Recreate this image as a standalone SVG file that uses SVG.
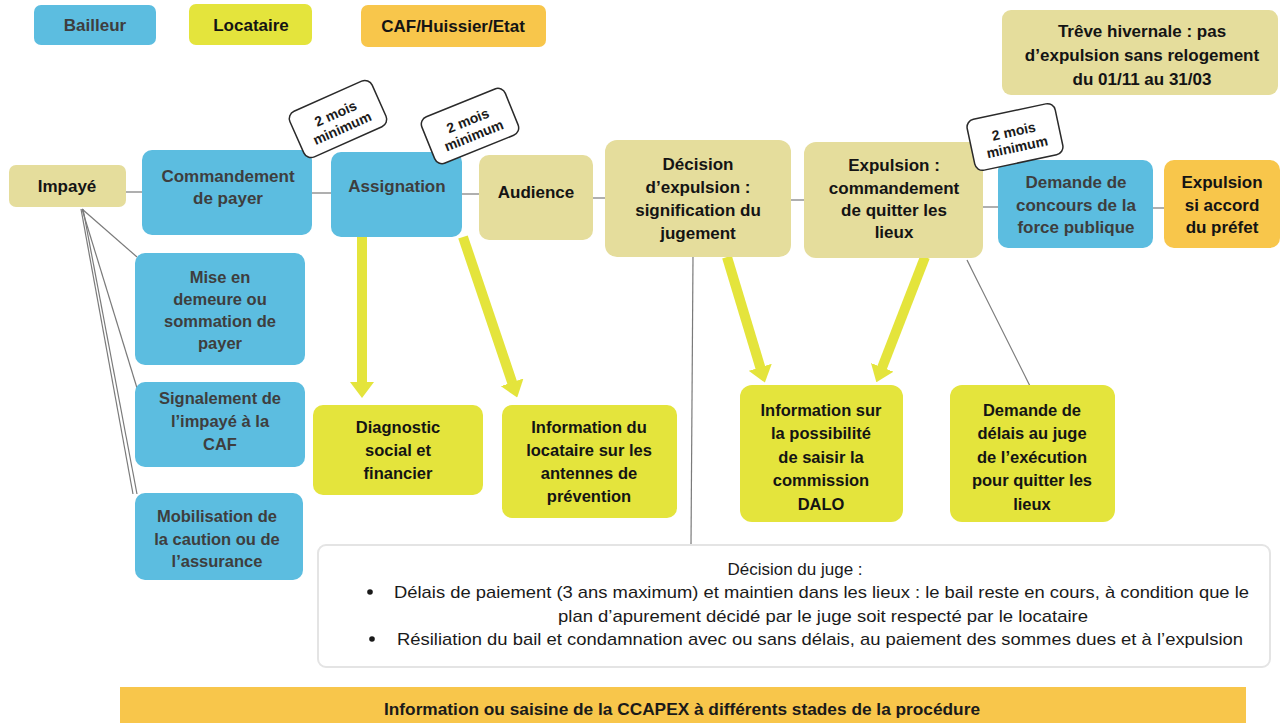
<svg xmlns="http://www.w3.org/2000/svg" width="1282" height="723" viewBox="0 0 1282 723">
<defs>
<style>
.bl{fill:#5cbde0}
.kh{fill:#e5dd9c}
.ye{fill:#e4e43c}
.or{fill:#f8c64b}
.t{font-family:"Liberation Sans",Arial,sans-serif;font-weight:bold;font-size:17px;text-anchor:middle}
.tb{fill:#3e3e3e}
.tk{fill:#141414}
.s16{font-size:16.5px}
.lbl rect{fill:#ffffff;stroke:#2a2a2a;stroke-width:1.5}
.lbl text{font-family:"Liberation Sans",Arial,sans-serif;font-size:14px;font-weight:bold;fill:#1a1a1a;text-anchor:middle}
.gl{stroke:#7a7a7a;stroke-width:1.2;fill:none}
.ya{stroke:#e4e43c;stroke-width:10;fill:none;marker-end:url(#yh)}
.jt{font-family:"Liberation Sans Narrow","Liberation Sans",Arial,sans-serif;font-size:17px;fill:#1a1a1a}
</style>
<marker id="yh" viewBox="0 0 16 24" markerWidth="16" markerHeight="24" refX="6" refY="12" orient="auto" markerUnits="userSpaceOnUse">
<path d="M0,0 L16,12 L0,24 z" fill="#e4e43c"/>
</marker>
</defs>
<rect width="1282" height="723" fill="#ffffff"/>

<!-- Legend -->
<g id="legend-bailleur"><rect class="bl" x="34" y="5" width="122" height="40" rx="7"/><text class="t tb" x="95" y="31">Bailleur</text></g>
<g id="legend-locataire"><rect class="ye" x="189" y="4" width="123" height="41" rx="7"/><text class="t tk" x="251" y="31">Locataire</text></g>
<g id="legend-caf"><rect class="or" x="361" y="5" width="185" height="42" rx="7"/><text class="t tk" x="453" y="32">CAF/Huissier/Etat</text></g>

<g id="treve"><rect class="kh" x="1002" y="10" width="276" height="85" rx="9"/>
<text class="t tk" x="1142" y="37">Trêve hivernale : pas</text>
<text class="t tk" x="1142" y="61">d’expulsion sans relogement</text>
<text class="t tk" x="1142" y="85">du 01/11 au 31/03</text></g>

<!-- Connectors -->
<g id="connectors">
<line class="gl" x1="126" y1="192" x2="142" y2="192"/>
<line class="gl" x1="312" y1="193" x2="331" y2="193"/>
<line class="gl" x1="462" y1="194" x2="479" y2="194"/>
<line class="gl" x1="593" y1="198" x2="605" y2="198"/>
<line class="gl" x1="791" y1="200" x2="804" y2="200"/>
<line class="gl" x1="983" y1="207" x2="998" y2="207"/>
<line class="gl" x1="1153" y1="208" x2="1164" y2="208"/>
<line class="gl" x1="82" y1="209" x2="137" y2="257"/>
<line class="gl" x1="82" y1="209" x2="137" y2="388"/>
<line class="gl" x1="81" y1="209" x2="133" y2="494"/>
<line class="gl" x1="83" y1="209" x2="137" y2="494"/>
<line class="gl" x1="693" y1="257" x2="691" y2="545"/>
<line class="gl" x1="967" y1="260" x2="1030" y2="386"/>
<line class="ya" x1="362" y1="237" x2="362" y2="388"/>
<line class="ya" x1="463" y1="237" x2="514" y2="388"/>
<line class="ya" x1="727" y1="257" x2="762" y2="373"/>
<line class="ya" x1="925" y1="257" x2="880" y2="373"/>
</g>

<!-- Main row -->
<g id="impaye"><rect class="kh" x="9" y="165" width="117" height="42" rx="7"/><text class="t tk" x="67" y="192">Impayé</text></g>
<g id="commandement"><rect class="bl" x="142" y="150" width="170" height="85" rx="10"/>
<text class="t tb" x="228" y="182">Commandement</text><text class="t tb" x="228" y="204">de payer</text></g>
<g id="assignation"><rect class="bl" x="331" y="152" width="131" height="85" rx="10"/><text class="t tb" x="397" y="192">Assignation</text></g>
<g id="audience"><rect class="kh" x="479" y="155" width="114" height="85" rx="10"/><text class="t tk" x="536" y="198">Audience</text></g>
<g id="decision"><rect class="kh" x="605" y="140" width="186" height="117" rx="12"/>
<text class="t tk" x="698" y="170">Décision</text><text class="t tk" x="698" y="193">d’expulsion :</text><text class="t tk" x="698" y="216">signification du</text><text class="t tk" x="698" y="239">jugement</text></g>
<g id="expulsion"><rect class="kh" x="804" y="142" width="179" height="116" rx="12"/>
<text class="t tk" x="894" y="171">Expulsion :</text><text class="t tk" x="894" y="194">commandement</text><text class="t tk" x="894" y="216">de quitter les</text><text class="t tk" x="894" y="238">lieux</text></g>
<g id="concours"><rect class="bl" x="998" y="160" width="155" height="88" rx="10"/>
<text class="t tb" x="1076" y="188">Demande de</text><text class="t tb" x="1076" y="211">concours de la</text><text class="t tb" x="1076" y="233">force publique</text></g>
<g id="prefet"><rect class="or" x="1164" y="160" width="116" height="88" rx="10"/>
<text class="t tk" x="1222" y="188">Expulsion</text><text class="t tk" x="1222" y="211">si accord</text><text class="t tk" x="1222" y="233">du préfet</text></g>

<!-- 2 mois labels -->
<g id="delai1" class="lbl" transform="translate(338,119) rotate(-24)"><rect x="-45" y="-25" width="90" height="50" rx="8"/><text x="0" y="-1">2 mois</text><text x="0" y="15">minimum</text></g>
<g id="delai2" class="lbl" transform="translate(470,126) rotate(-22)"><rect x="-45" y="-25" width="90" height="50" rx="8"/><text x="0" y="-1">2 mois</text><text x="0" y="15">minimum</text></g>
<g id="delai3" class="lbl" transform="translate(1015,137) rotate(-12)"><rect x="-45" y="-26" width="90" height="52" rx="8"/><text x="0" y="-1">2 mois</text><text x="0" y="15">minimum</text></g>

<!-- Left column -->
<g id="mise"><rect class="bl" x="135" y="253" width="170" height="112" rx="10"/>
<text class="t tb s16" x="220" y="283">Mise en</text><text class="t tb s16" x="220" y="305">demeure ou</text><text class="t tb s16" x="220" y="327">sommation de</text><text class="t tb s16" x="220" y="349">payer</text></g>
<g id="signalement"><rect class="bl" x="135" y="382" width="170" height="85" rx="10"/>
<text class="t tb s16" x="220" y="404">Signalement de</text><text class="t tb s16" x="220" y="427">l’impayé à la</text><text class="t tb s16" x="220" y="450">CAF</text></g>
<g id="mobilisation"><rect class="bl" x="135" y="493" width="168" height="87" rx="10"/>
<text class="t tb s16" x="217" y="522">Mobilisation de</text><text class="t tb s16" x="217" y="545">la caution ou de</text><text class="t tb s16" x="217" y="567">l’assurance</text></g>

<!-- Yellow boxes -->
<g id="diagnostic"><rect class="ye" x="313" y="405" width="170" height="90" rx="10"/>
<text class="t tk s16" x="398" y="433">Diagnostic</text><text class="t tk s16" x="398" y="456">social et</text><text class="t tk s16" x="398" y="479">financier</text></g>
<g id="antennes"><rect class="ye" x="502" y="405" width="175" height="113" rx="10"/>
<text class="t tk s16" x="589" y="433">Information du</text><text class="t tk s16" x="589" y="456">locataire sur les</text><text class="t tk s16" x="589" y="479">antennes de</text><text class="t tk s16" x="589" y="502">prévention</text></g>
<g id="dalo"><rect class="ye" x="740" y="385" width="163" height="137" rx="12"/>
<text class="t tk s16" x="821" y="416">Information sur</text><text class="t tk s16" x="821" y="439">la possibilité</text><text class="t tk s16" x="821" y="463">de saisir la</text><text class="t tk s16" x="821" y="486">commission</text><text class="t tk s16" x="821" y="510">DALO</text></g>
<g id="delais"><rect class="ye" x="950" y="385" width="165" height="137" rx="12"/>
<text class="t tk s16" x="1032" y="416">Demande de</text><text class="t tk s16" x="1032" y="439">délais au juge</text><text class="t tk s16" x="1032" y="463">de l’exécution</text><text class="t tk s16" x="1032" y="486">pour quitter les</text><text class="t tk s16" x="1032" y="510">lieux</text></g>

<!-- Décision du juge -->
<g id="decision-juge"><rect x="318" y="545" width="952" height="122" rx="8" fill="#ffffff" stroke="#e4e4e4" stroke-width="2"/>
<text class="jt" x="795" y="575" text-anchor="middle">Décision du juge :</text>
<circle cx="370" cy="592" r="2.8" fill="#1a1a1a"/>
<text class="jt" x="394" y="598" textLength="855" lengthAdjust="spacingAndGlyphs">Délais de paiement (3 ans maximum) et maintien dans les lieux : le bail reste en cours, à condition que le</text>
<text class="jt" x="558" y="622" textLength="530" lengthAdjust="spacingAndGlyphs">plan d’apurement décidé par le juge soit respecté par le locataire</text>
<circle cx="372" cy="639" r="2.8" fill="#1a1a1a"/>
<text class="jt" x="397" y="645" textLength="846" lengthAdjust="spacingAndGlyphs">Résiliation du bail et condamnation avec ou sans délais, au paiement des sommes dues et à l’expulsion</text></g>

<!-- CCAPEX bar -->
<g id="ccapex"><rect class="or" x="120" y="687" width="1126" height="36"/>
<text class="jt" x="384" y="715" font-weight="bold" textLength="596" lengthAdjust="spacingAndGlyphs">Information ou saisine de la CCAPEX à différents stades de la procédure</text></g>
</svg>
